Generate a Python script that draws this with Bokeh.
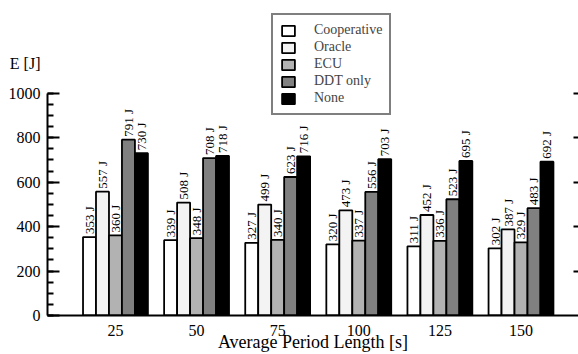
import math
from bokeh.plotting import figure
from bokeh.models import (ColumnDataSource, Range1d, LinearAxis, SingleIntervalTicker,
                          FixedTicker, Legend, LegendItem)
from bokeh.transform import dodge
from bokeh.embed import file_html
from bokeh.resources import INLINE

# ---- data ----
periods = ["25", "50", "75", "100", "125", "150"]
series_names = ["Cooperative", "Oracle", "ECU", "DDT only", "None"]
cooperative = [353, 339, 327, 320, 311, 302]
oracle = [557, 508, 499, 473, 452, 387]
ecu = [360, 348, 340, 337, 336, 329]
ddt_only = [791, 708, 623, 556, 523, 483]
none = [730, 718, 716, 703, 695, 692]
y_tick_values = [0, 200, 400, 600, 800, 1000]
y_title = "E [J]"
y_title_pos = 1134

colors = ["#ffffff", "#f3f3f3", "#b2b2b2", "#808080", "#000000"]
values = [cooperative, oracle, ecu, ddt_only, none]
keys = ["coop", "oracle", "ecu", "ddt", "none"]

FONT = "Liberation Serif"

data = {"x": list(range(len(periods)))}
for k, v in zip(keys, values):
    data[k] = v
    data[k + "_lbl"] = [f"{val} J" for val in v]
src = ColumnDataSource(data)

p = figure(width=578, height=354, output_backend="svg", toolbar_location=None,
           x_range=Range1d(-0.838, 5.709), y_range=Range1d(0, 1417),
           min_border_left=47, min_border_right=0, min_border_top=0, min_border_bottom=38,
           x_axis_location=None, y_axis_location=None)
p.outline_line_color = None
p.grid.visible = False
p.background_fill_color = "white"

bar_w = 0.16
offsets = [-0.32, -0.16, 0.0, 0.16, 0.32]
items = []
for k, name, col, off in zip(keys, series_names, colors, offsets):
    r = p.vbar(x=dodge("x", off, range=p.x_range), top=k, width=bar_w, source=src,
               fill_color=col, line_color="black", line_width=1.8)
    items.append(LegendItem(label=name, renderers=[r]))
    p.text(x=dodge("x", off, range=p.x_range), y=k, text=k + "_lbl", source=src,
           angle=math.pi / 2, text_align="left", text_baseline="middle",
           y_offset=-3, text_font=FONT, text_font_size="13px", text_color="black")

# inner left axis: line and ticks only
yax = LinearAxis(ticker=SingleIntervalTicker(interval=200, num_minor_ticks=4),
                 bounds=(0, 1000))
yax.axis_line_width = 2
yax.major_tick_in = 12
yax.major_tick_out = 0
yax.minor_tick_in = 6
yax.minor_tick_out = 0
yax.major_tick_line_width = 2
yax.minor_tick_line_width = 2
yax.major_label_standoff = 0
yax.major_label_overrides = {v: "" for v in range(0, 1600, 200)}
p.add_layout(yax, "left")

# outer left axis: tick labels and the axis title
lab_ticks = y_tick_values + [y_title_pos]
ylab = LinearAxis(ticker=FixedTicker(ticks=lab_ticks), bounds=(0, 1200))
ylab.axis_line_color = None
ylab.major_tick_line_color = None
ylab.minor_tick_line_color = None
ylab.major_label_standoff = 1
ylab.major_label_overrides = {y_title_pos: y_title}
ylab.major_label_text_font = FONT
ylab.major_label_text_font_size = "16px"
ylab.major_label_text_color = "black"
p.add_layout(ylab, "left")

# right axis (ticks only)
rax = LinearAxis(ticker=FixedTicker(ticks=[200, 400, 600, 800, 1000]), bounds=(0, 1000))
rax.axis_line_color = None
rax.major_tick_in = 5
rax.major_tick_out = 0
rax.major_tick_line_width = 2
rax.minor_tick_line_color = None
rax.major_label_standoff = 0
rax.major_label_overrides = {200: "", 400: "", 600: "", 800: "", 1000: ""}
p.add_layout(rax, "right")

# bottom axis
xax = LinearAxis(ticker=FixedTicker(ticks=list(range(len(periods)))))
xax.major_label_overrides = {i: s for i, s in enumerate(periods)}
xax.axis_line_width = 2
xax.major_tick_line_color = None
xax.minor_tick_line_color = None
xax.major_label_standoff = 3
xax.major_label_text_font = FONT
xax.major_label_text_font_size = "16px"
xax.major_label_text_color = "black"
xax.axis_label = "Average Period Length [s]"
xax.axis_label_text_font = FONT
xax.axis_label_text_font_style = "normal"
xax.axis_label_text_font_size = "18px"
xax.axis_label_text_color = "black"
xax.axis_label_standoff = -7
p.add_layout(xax, "below")

legend = Legend(items=items, location=(224, 200), margin=0, padding=7,
                glyph_width=16, glyph_height=13, label_height=16, spacing=1,
                label_standoff=18, border_line_color="black", border_line_width=2,
                label_text_font=FONT, label_text_font_size="14px",
                background_fill_color="white", background_fill_alpha=1.0)
p.add_layout(legend, "center")

open("out.html", "w").write(file_html(p, INLINE))
